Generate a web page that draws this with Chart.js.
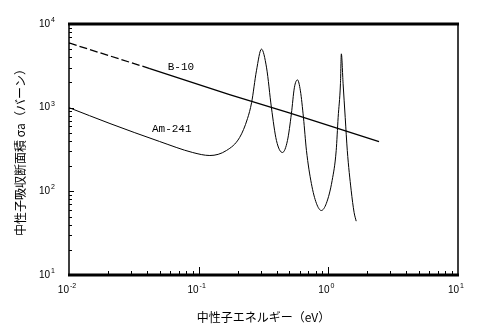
<!DOCTYPE html>
<html lang="ja">
<head>
  <meta charset="UTF-8" />
  <title>中性子吸収断面積</title>
  <style>
    html, body { margin: 0; padding: 0; background: #fff; }
    #wrap { width: 481px; height: 334px; }
  </style>
</head>
<body>
  <div id="wrap"><canvas id="chart" width="481" height="334"></canvas></div>

  <script src="https://cdn.jsdelivr.net/npm/chart.js"></script>
  <script>
    // Am-241
    const energyAm = [0.01, 0.0207, 0.050, 0.090, 0.122, 0.164, 0.207, 0.238, 0.256, 0.279,
      0.305, 0.334, 0.364, 0.398, 0.443, 0.484, 0.519, 0.547, 0.578, 0.609, 0.643, 0.678,
      0.740, 0.809, 0.883, 0.966, 1.07, 1.15, 1.19, 1.24, 1.26, 1.30, 1.35, 1.40, 1.50, 1.58, 1.64];
    const sigmaAm = [1000, 646, 394, 291, 268, 308, 440, 740, 1150, 2760,
      5010, 2990, 1000, 405, 291, 405, 849, 1730, 2150, 1590, 760, 308,
      124, 72, 59, 72, 135, 308, 760, 1930, 4400, 1930, 760, 308, 103, 56, 44];

    // B-10 : dashed part, then solid part
    const energyB10Dash = [0.01, 0.042];
    const sigmaB10Dash = [5940, 2930];
    const energyB10 = [0.042, 0.173, 0.5, 2.46];
    const sigmaB10 = [2930, 1430, 865, 394];

    // curve labels
    const labelNames = ['B-10', 'Am-241'];
    const labelEnergy = [0.073, 0.062];
    const labelSigma = [3080, 562];

    // axis decades (exponents)
    const xExp = [-2, -1, 0, 1];
    const yExp = [1, 2, 3, 4];

    const pts = (xs, ys) => xs.map((v, i) => ({ x: v, y: ys[i] }));

    function drawPow(ctx, e, x, y, align) {
      const base = '10';
      const sup = String(e);
      ctx.font = '10px "Liberation Sans"';
      const wb = ctx.measureText(base).width;
      ctx.font = '7px "Liberation Sans"';
      const ws = ctx.measureText(sup).width;
      const x0 = align === 'right' ? x - wb - ws - 1 : x - (wb + ws + 1) / 2;
      ctx.textBaseline = 'middle';
      ctx.textAlign = 'left';
      ctx.font = '10px "Liberation Sans"';
      ctx.fillText(base, x0, y);
      ctx.font = '7px "Liberation Sans"';
      ctx.fillText(sup, x0 + wb + 1, y - 4);
    }

    const frame = {
      id: 'frame',
      afterDatasetsDraw(chart) {
        const { ctx, chartArea: a, scales: { x, y } } = chart;
        ctx.save();
        ctx.strokeStyle = '#000';
        ctx.fillStyle = '#000';

        // box
        ctx.lineWidth = 3;
        ctx.beginPath();
        ctx.moveTo(a.left - 1, a.top); ctx.lineTo(a.right + 1, a.top);
        ctx.moveTo(a.left - 1, a.bottom); ctx.lineTo(a.right + 1, a.bottom);
        ctx.stroke();
        ctx.lineWidth = 1.5;
        ctx.beginPath();
        ctx.moveTo(a.left, a.top); ctx.lineTo(a.left, a.bottom);
        ctx.moveTo(a.right, a.top); ctx.lineTo(a.right, a.bottom);
        ctx.stroke();

        // inner ticks
        ctx.lineWidth = 1;
        ctx.beginPath();
        xExp.slice(0, -1).forEach(e => {
          for (let m = 1; m <= 9; m++) {
            const v = m * Math.pow(10, e);
            if (v <= x.min) continue;
            const px = Math.round(x.getPixelForValue(v)) + 0.5;
            ctx.moveTo(px, a.bottom);
            ctx.lineTo(px, a.bottom - (m === 1 ? 8 : 4));
          }
        });
        yExp.slice(0, -1).forEach(e => {
          for (let m = 1; m <= 9; m++) {
            const v = m * Math.pow(10, e);
            if (v <= y.min) continue;
            const py = Math.round(y.getPixelForValue(v)) + 0.5;
            ctx.moveTo(a.left, py);
            ctx.lineTo(a.left + (m === 1 ? 5 : 3), py);
          }
        });
        ctx.stroke();

        // tick labels
        xExp.forEach(e => {
          drawPow(ctx, e, x.getPixelForValue(Math.pow(10, e)) - 2, a.bottom + 15, 'center');
        });
        yExp.forEach(e => {
          drawPow(ctx, e, a.left - 14, y.getPixelForValue(Math.pow(10, e)), 'right');
        });

        // curve labels
        ctx.font = '11px "Liberation Mono"';
        ctx.textAlign = 'center';
        ctx.textBaseline = 'middle';
        labelNames.forEach((t, i) => {
          ctx.fillText(t, x.getPixelForValue(labelEnergy[i]), y.getPixelForValue(labelSigma[i]));
        });
        ctx.restore();
      }
    };

    new Chart(document.getElementById('chart'), {
      type: 'line',
      data: {
        datasets: [
          {
            label: 'Am-241',
            data: pts(energyAm, sigmaAm),
            borderColor: '#000',
            borderWidth: 1,
            pointRadius: 0,
            cubicInterpolationMode: 'monotone'
          },
          {
            label: 'B-10 dash',
            data: pts(energyB10Dash, sigmaB10Dash),
            borderColor: '#000',
            borderWidth: 1.3,
            borderDash: [8, 3],
            pointRadius: 0
          },
          {
            label: 'B-10',
            data: pts(energyB10, sigmaB10),
            borderColor: '#000',
            borderWidth: 1.3,
            pointRadius: 0
          }
        ]
      },
      options: {
        responsive: false,
        animation: false,
        layout: { padding: { top: 24, right: 23, left: 0, bottom: 0 } },
        plugins: {
          legend: { display: false },
          tooltip: { enabled: false }
        },
        scales: {
          x: {
            type: 'logarithmic',
            min: 0.01,
            max: 10,
            grid: { display: false },
            border: { display: false },
            ticks: { display: false },
            title: {
              display: true,
              text: '中性子エネルギー（eV）',
              color: '#000',
              font: { family: '"Noto Sans CJK JP"', size: 12 },
              padding: { top: 0, bottom: 9 }
            },
            afterFit: s => { s.height = 59; }
          },
          y: {
            type: 'logarithmic',
            min: 10,
            max: 10000,
            grid: { display: false },
            border: { display: false },
            ticks: { display: false },
            title: {
              display: true,
              text: '中性子吸収断面積 σa（バーン）',
              color: '#000',
              font: { family: '"Noto Sans CJK JP"', size: 12 },
              padding: { top: 13, bottom: 0 }
            },
            afterFit: s => { s.width = 69; }
          }
        }
      },
      plugins: [frame]
    });
  </script>
</body>
</html>
